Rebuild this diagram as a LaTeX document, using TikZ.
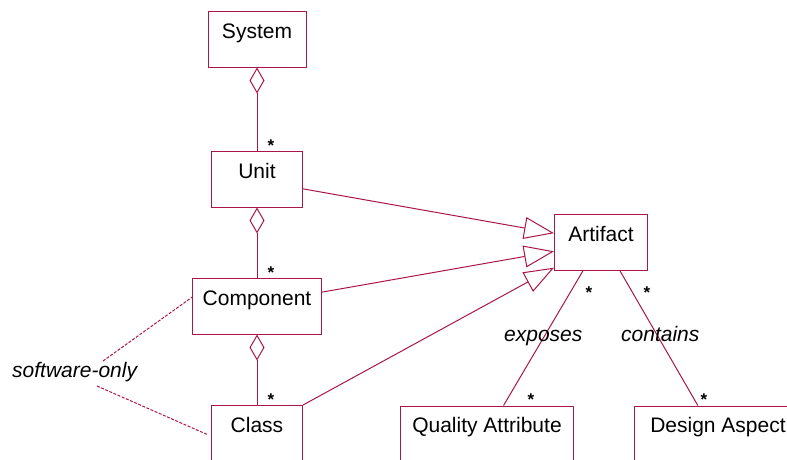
\documentclass[tikz,border=0pt]{standalone}
\usepackage{fontspec}
\setmainfont{Liberation Sans}
\usetikzlibrary{arrows.meta,calc}
\definecolor{umlred}{RGB}{170,22,72}
\begin{document}
\begin{tikzpicture}[x=1pt,y=-1pt,
  every node/.style={font=\fontsize{21}{25}\selectfont},
  classbox/.style={draw=umlred, line width=1pt, anchor=north west,
    inner xsep=0pt, inner ysep=0pt, text height=26.5pt, text depth=29pt},
  link/.style={draw=umlred, line width=1pt},
  aggr/.style={link, {Diamond[open,length=26pt,width=15pt]}-},
  gen/.style={link, -{Triangle[open,length=30pt,width=22pt]}},
  note/.style={link, dash pattern=on 3pt off 1.5pt},
  mult/.style={font=\fontsize{17}{20}\selectfont\bfseries, inner sep=0pt, anchor=base},
  role/.style={font=\fontsize{21}{25}\selectfont\itshape, inner sep=0pt, anchor=base west}
]
\useasboundingbox (0,0) rectangle (787,459);
\clip (0,0) rectangle (787,459);

% classes
\node[classbox, minimum width=98pt]  (system)    at (207.5,11)  {System};
\node[classbox, minimum width=91pt]  (unit)      at (211,151)   {Unit};
\node[classbox, minimum width=129pt] (component) at (192,278)   {Component};
\node[classbox, minimum width=91pt]  (class)     at (211,405)   {Class};
\node[classbox, minimum width=93pt]  (artifact)  at (554,214)   {Artifact};
\node[classbox, minimum width=173pt] (qa)        at (400,405.5) {Quality Attribute};
\node[classbox, minimum width=167pt] (da)        at (634,405.5) {Design Aspect};

% aggregations
\draw[aggr] (system.south) -- (unit.north);
\draw[aggr] (unit.south) -- (component.north);
\draw[aggr] (component.south) -- (class.north);

% generalizations
\draw[gen] ($(unit.north east)!0.67!(unit.south east)$) -- ($(artifact.north west)!0.34!(artifact.south west)$);
\draw[gen] ($(component.north east)!0.25!(component.south east)$) -- ($(artifact.north west)!0.66!(artifact.south west)$);
\draw[gen] (class.north east) -- ($(artifact.north west)!0.95!(artifact.south west)$);

% associations
\draw[link] ($(artifact.south west)!0.31!(artifact.south east)$) -- ($(qa.north west)!0.595!(qa.north east)$);
\draw[link] ($(artifact.south west)!0.70!(artifact.south east)$) -- ($(da.north west)!0.38!(da.north east)$);

% role names
\node[role] (exposes)  at (504,341) {exposes};
\node[role] (contains) at (621,341) {contains};

% note
\node[role] (swo) at (12,377.5) {software-only};
\coordinate (swoA) at (103,361);
\coordinate (swoB) at (97,386);
\draw[note] (swoA) -- ($(component.north west)!0.34!(component.south west)$);
\draw[note] (swoB) -- ($(class.north west)!0.52!(class.south west) + (-4,0)$);

% multiplicities
\node[mult] (m1) at (271,151) {*};
\node[mult] (m2) at (271,278) {*};
\node[mult] (m3) at (271,405) {*};
\node[mult] (m4) at (589,298) {*};
\node[mult] (m5) at (647,298) {*};
\node[mult] (m6) at (531,405) {*};
\node[mult] (m7) at (704,405) {*};
\end{tikzpicture}
\end{document}
